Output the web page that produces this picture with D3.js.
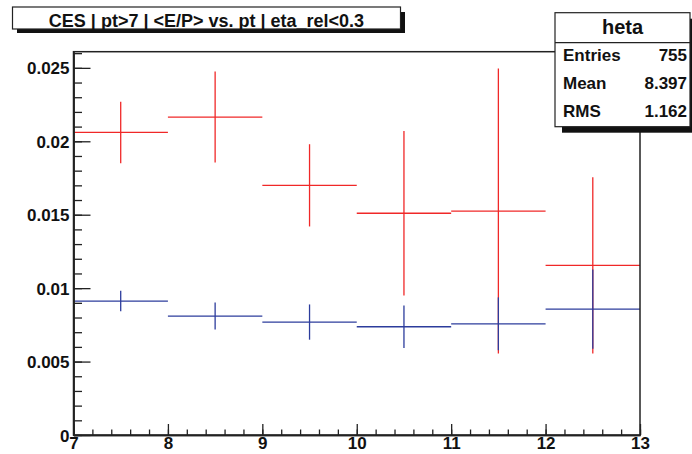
<!DOCTYPE html>
<html>
<head>
<meta charset="utf-8">
<script src="https://cdn.jsdelivr.net/npm/d3@7"></script>
<style>
	body { margin: 0; background: #fff; }
	text { font-family: "Liberation Sans", Arial, Helvetica, sans-serif; font-weight: bold; fill: #111; }
</style>
</head>
<body>
<script>

// bin edges of the histogram (pt)
const binEdges = [7, 8, 9, 10, 11, 12, 13];

// red series: <E/P> per bin and its error
const redValues = [0.0206, 0.02165, 0.0170, 0.0151, 0.01525, 0.01155];
const redErrors = [0.0021, 0.0031, 0.0028, 0.0056, 0.0097, 0.0060];

// blue series
const blueValues = [0.00912, 0.0081, 0.00769, 0.00737, 0.00757, 0.00857];
const blueErrors = [0.0007, 0.00092, 0.0012, 0.00145, 0.0018, 0.0027];

const yTicks = [0, 0.005, 0.01, 0.015, 0.02, 0.025];
const xTicks = [7, 8, 9, 10, 11, 12, 13];

const titleText = 'CES | pt>7 | <E/P> vs. pt | eta_rel<0.3';
const statsName = 'heta';
const statsRows = [['Entries', '755'], ['Mean', '8.397'], ['RMS', '1.162']];

const W = 692, H = 454;
const margin = { top: 51.7, bottom: 19, left: 73.5, right: 52 };
const width = W - margin.left - margin.right;
const height = H - margin.top - margin.bottom;

const svg = d3.select('body').append('svg')
	.attr('width', W)
	.attr('height', H);

const x = d3.scaleLinear().domain([7, 13]).range([0, width]);
const y = d3.scaleLinear().domain([0, 0.0261]).range([height, 0]);

const g = svg.append('g')
	.attr('transform', 'translate(' + margin.left + ',' + margin.top + ')');

// data: one cross per bin
function drawSeries(values, errors, color) {
	const bins = values.map(function(v, i) {
		return { lo: binEdges[i], hi: binEdges[i + 1], v: v, e: errors[i] };
	});
	const s = g.append('g').attr('stroke', color).attr('stroke-width', 1.3);
	s.selectAll('.h').data(bins).enter().append('line')
		.attr('x1', d => x(d.lo)).attr('x2', d => x(d.hi))
		.attr('y1', d => y(d.v)).attr('y2', d => y(d.v));
	s.selectAll('.v').data(bins).enter().append('line')
		.attr('x1', d => x((d.lo + d.hi) / 2)).attr('x2', d => x((d.lo + d.hi) / 2))
		.attr('y1', d => y(d.v - d.e)).attr('y2', d => y(d.v + d.e));
}

drawSeries(redValues, redErrors, '#f02828');
drawSeries(blueValues, blueErrors, '#2c3c9c');

// frame
g.append('rect')
	.attr('x', 0).attr('y', 0)
	.attr('width', width).attr('height', height)
	.attr('fill', 'none')
	.attr('stroke', '#222')
	.attr('stroke-width', 1.5);

// y axis, ticks pointing inward
const yAxis = d3.axisLeft(y).tickValues(yTicks).tickSize(-17).tickSizeOuter(0).tickPadding(4)
	.tickFormat(d => String(d));
const yMinor = d3.axisLeft(y).tickValues(d3.range(0, 0.0261, 0.001)).tickSize(-8.5).tickSizeOuter(0)
	.tickFormat('');

g.append('g').attr('class', 'y axis').call(yMinor);
const ya = g.append('g').attr('class', 'y axis').call(yAxis);
ya.selectAll('text').style('font-size', '17px').attr('dy', '0.36em');

// x axis
const xAxis = d3.axisBottom(x).tickValues(xTicks).tickSize(-11).tickSizeOuter(0).tickPadding(2)
	.tickFormat(d => String(d));
const xMinor = d3.axisBottom(x).tickValues(d3.range(7, 13.01, 0.2)).tickSize(-5.5).tickSizeOuter(0)
	.tickFormat('');

g.append('g').attr('class', 'x axis').attr('transform', 'translate(0,' + height + ')').call(xMinor);
const xa = g.append('g').attr('class', 'x axis').attr('transform', 'translate(0,' + height + ')').call(xAxis);
xa.selectAll('text').style('font-size', '17px');

svg.selectAll('.axis line').attr('stroke', '#222').attr('stroke-width', 1.3);
svg.selectAll('.axis path').attr('stroke', '#222').attr('stroke-width', 1.5);
svg.selectAll('.axis text').style('fill', '#111').style('font-family', '"Liberation Sans", Arial, sans-serif');

// title box with shadow
svg.append('rect').attr('x', 17).attr('y', 12).attr('width', 388).attr('height', 21).attr('fill', '#111');
svg.append('rect').attr('x', 12.5).attr('y', 7).attr('width', 388).attr('height', 22)
	.attr('fill', '#fff').attr('stroke', '#222').attr('stroke-width', 1.2);
svg.append('text')
	.attr('x', 12.5 + 388 / 2).attr('y', 27.3)
	.style('text-anchor', 'middle')
	.style('font-size', '18px')
	.text(titleText);

// stats box
const sx = 555, sy = 12.7, sw = 135, sh = 114;
svg.append('rect').attr('x', sx + 7).attr('y', sy + 6).attr('width', sw).attr('height', sh).attr('fill', '#111');
svg.append('rect').attr('x', sx).attr('y', sy).attr('width', sw).attr('height', sh)
	.attr('fill', '#fff').attr('stroke', '#222').attr('stroke-width', 1.2);
svg.append('line').attr('x1', sx).attr('x2', sx + sw).attr('y1', 42.7).attr('y2', 42.7)
	.attr('stroke', '#222').attr('stroke-width', 1.2);
svg.append('text')
	.attr('x', sx + sw / 2).attr('y', 34.3)
	.style('text-anchor', 'middle')
	.style('font-size', '20px')
	.text(statsName);

statsRows.forEach(function(r, i) {
	const by = 60.7 + i * 28.3;
	svg.append('text').attr('x', 563).attr('y', by).style('font-size', '17px').text(r[0]);
	svg.append('text').attr('x', 687).attr('y', by).style('font-size', '17px')
		.style('text-anchor', 'end').text(r[1]);
});

</script>
</body>
</html>
